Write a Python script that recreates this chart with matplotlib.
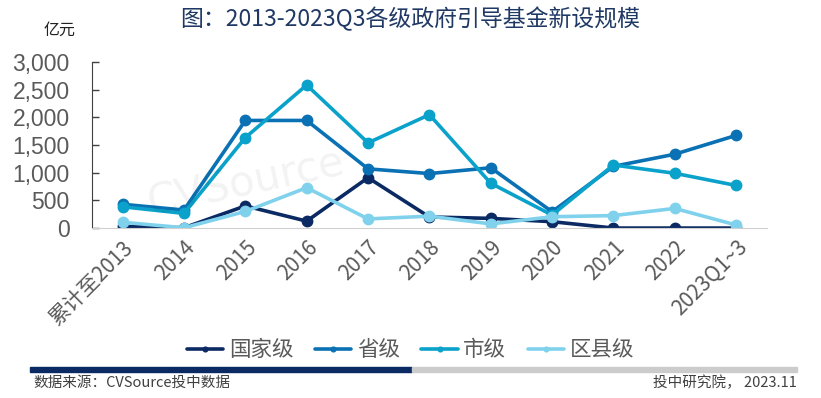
import matplotlib
matplotlib.use("Agg")
import matplotlib.pyplot as plt
from matplotlib.ticker import FuncFormatter

plt.rcParams['font.family'] = ['Noto Sans CJK SC', 'DejaVu Sans']

years = ["累计至2013", "2014", "2015", "2016", "2017", "2018", "2019",
         "2020", "2021", "2022", "2023Q1~3"]
national = [30, 5, 400, 125, 910, 200, 175, 115, 0, 0, 0]
province = [430, 325, 1945, 1945, 1070, 985, 1090, 295, 1115, 1335, 1675]
city = [385, 265, 1635, 2585, 1540, 2050, 810, 235, 1140, 990, 770]
county = [105, 5, 300, 730, 165, 215, 75, 205, 225, 355, 55]

names = ["国家级", "省级", "市级", "区县级"]
colors = ["#0b2a63", "#0a72b4", "#0aa2cb", "#80d2ec"]

fig = plt.figure(figsize=(8.21, 3.98), dpi=100)
ax = fig.add_axes([0.112, 0.427, 0.822, 0.417])

x = range(len(years))
for vals, name, c in zip([national, province, city, county], names, colors):
    ax.plot(x, vals, color=c, lw=2.6, marker="o", ms=7.5, label=name,
            solid_capstyle="round")

ax.set_ylim(0, 3000)
ax.set_xlim(-0.5, len(years) - 0.5)
ax.set_yticks(range(0, 3001, 500))
ax.yaxis.set_major_formatter(FuncFormatter(lambda v, p: f"{int(v):,}"))
for t in ax.get_yticklabels():
    t.set_fontfamily("Liberation Sans")
ax.tick_params(axis="y", labelsize=16.5, colors="#5a5a5a", direction="in",
               length=5, width=1, pad=16)
ax.tick_params(axis="y", color="#404040")
ax.set_xticks(list(x))
ax.set_xticklabels(years, rotation=45, ha="right", rotation_mode="anchor",
                   fontsize=15, color="#5a5a5a")
ax.tick_params(axis="x", length=0, pad=6)
for s in ["top", "right"]:
    ax.spines[s].set_visible(False)
ax.spines["left"].set_color("#404040")
ax.spines["bottom"].set_color("#d0d0d0")

leg = fig.legend(loc="center", bbox_to_anchor=(0.5, 0.12), ncol=4,
                 frameon=False, fontsize=15.5, handlelength=1.7,
                 columnspacing=1.0, handletextpad=0.25, markerscale=0.45)
for t in leg.get_texts():
    t.set_color("#5a5a5a")

fig.text(0.5, 0.952, "图：2013-2023Q3各级政府引导基金新设规模", ha="center",
         va="center", fontsize=16.5, color="#1f3864")
fig.text(0.072, 0.925, "亿元", ha="center", va="center", fontsize=11.5,
         color="#222222")

# watermark
fig.text(0.3, 0.54, "CVSource", fontsize=30, color="#000000", alpha=0.05,
         rotation=12, ha="center", va="center", family="DejaVu Sans")

# bottom band
fig.add_artist(plt.Rectangle((30 / 821, 1 - 372 / 398), 382 / 821, 5 / 398,
                             transform=fig.transFigure, color="#0b2a63"))
fig.add_artist(plt.Rectangle((412 / 821, 1 - 372 / 398), 385 / 821, 5 / 398,
                             transform=fig.transFigure, color="#cccccc"))
fig.text(33 / 821, 1 - 383 / 398, "数据来源：CVSource投中数据", ha="left",
         va="center", fontsize=10.5, color="#404040")
fig.text(797 / 821, 1 - 383 / 398, "投中研究院， 2023.11", ha="right",
         va="center", fontsize=10.5, color="#404040")

fig.savefig("out.png", dpi=100)
